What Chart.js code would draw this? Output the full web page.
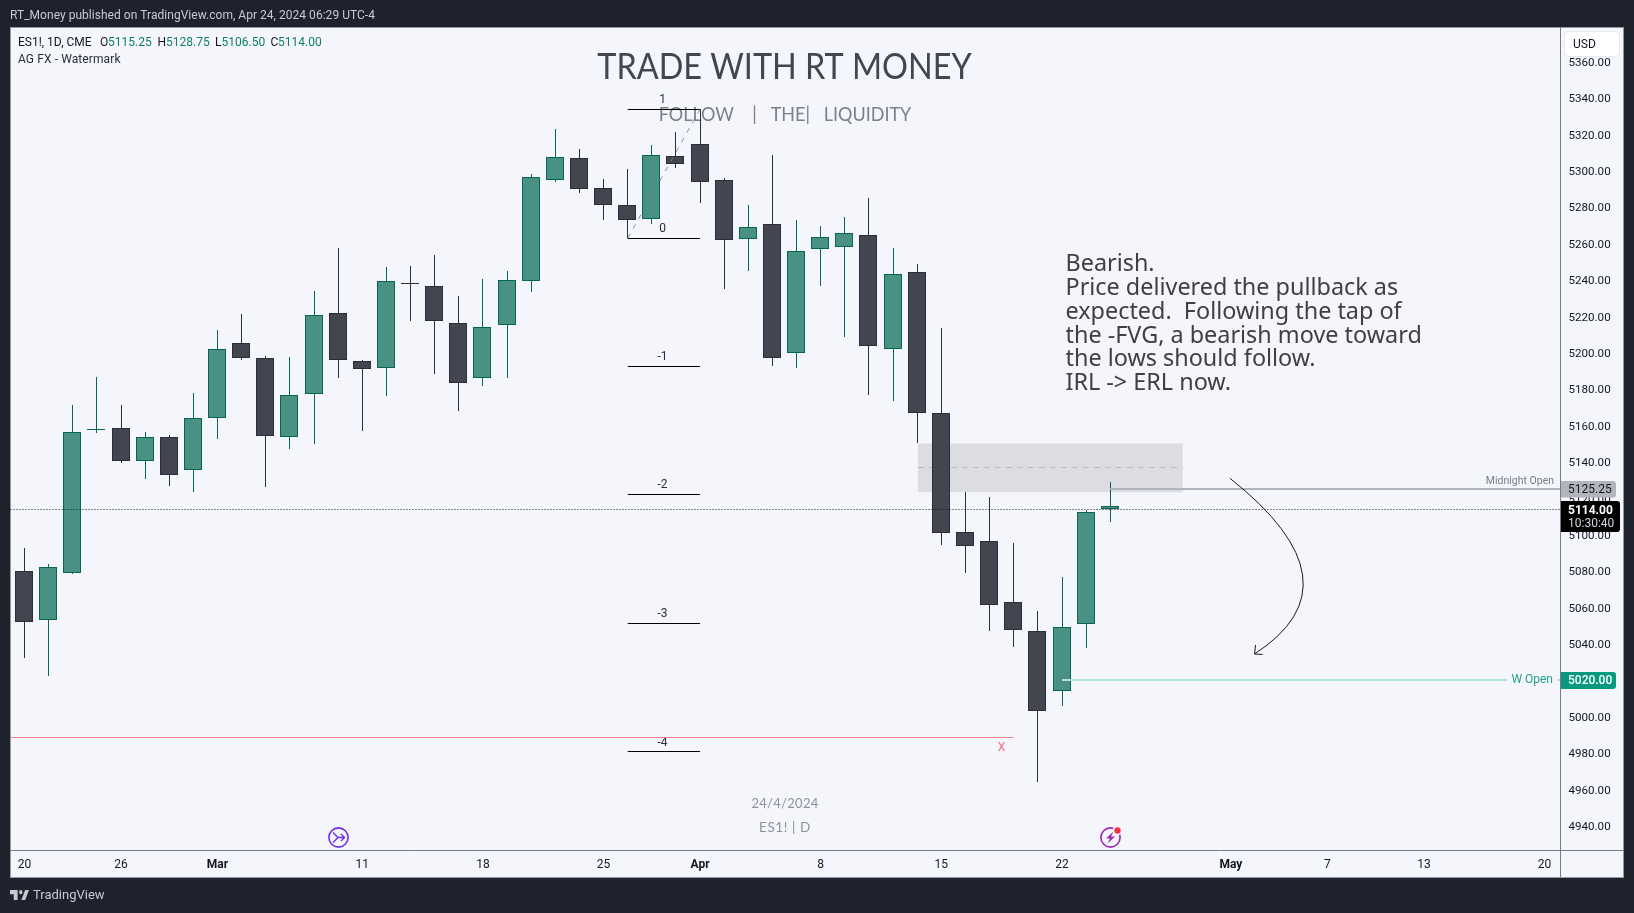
<!DOCTYPE html>
<html><head><meta charset="utf-8">
<script src="https://cdn.jsdelivr.net/npm/chart.js@4"></script>
<style>html,body{margin:0;padding:0;background:#1e222d;overflow:hidden}canvas{display:block}
#logo{position:absolute;left:10px;top:890px;width:19.5px;height:10px}</style>
</head><body>
<canvas id="c" width="1634" height="913"></canvas>
<svg id="logo" viewBox="0 6 36 14" preserveAspectRatio="none"><path fill="#c8cad0" d="M14 6H0v6h7v8h7V6Z"/><circle fill="#c8cad0" cx="20" cy="9" r="3"/><path fill="#c8cad0" d="M28 20h-7l7-14h7l-7 14Z"/></svg>
<script>
const opens  = [5079.5,5052.5,5078.75,5157.25,5158,5140.25,5153.5,5135,5164,5204.75,5196.5,5153.5,5177,5221.25,5195,5191.5,5238,5236.25,5215.75,5185.5,5214.75,5239.25,5294.5,5306.5,5290,5280.75,5273,5307.5,5314.25,5294.5,5262,5270.25,5199.25,5256.5,5257.5,5264.25,5201.5,5243.75,5166.5,5101,5096,5062.5,5046.5,5013.5,5050.5,5115.25];
const highs  = [5092.5,5083.5,5171,5186.25,5171,5156,5154.5,5177.5,5212,5221,5198,5197.25,5233.5,5257.25,5195.75,5246.75,5247.25,5253.5,5230.75,5240,5244.5,5298,5322.5,5311.5,5295,5300.5,5313.75,5321,5333.5,5295.5,5280.75,5308.25,5272.5,5269.25,5274.25,5284.75,5257.25,5248.5,5213.25,5123,5120.5,5095,5057.75,5076.5,5113,5128.75];
const lows   = [5031.75,5022.25,5078.25,5155.25,5139.25,5130.5,5126.5,5123.25,5152.5,5195.5,5126,5147,5149.75,5185.5,5156.75,5176,5217,5188,5167.75,5181.5,5186,5233.25,5293.5,5287.5,5272.75,5262.75,5270.5,5301.25,5282,5234.75,5244.75,5192.5,5191.5,5236.5,5208.5,5176.5,5173.25,5150.25,5094.25,5078.75,5047,5038,4963.5,5005.75,5037.5,5106.5];
const closes = [5051.75,5081.75,5156,5157.75,5140.25,5153.25,5132.25,5163.5,5201.5,5197,5154,5176.25,5220.25,5195.75,5190.5,5239,5237.5,5217.25,5182.75,5214,5239.5,5296,5307,5289.5,5280.75,5272.5,5308,5303.5,5293.25,5261.5,5268.5,5196.5,5255.5,5263,5265.25,5203.25,5242.75,5166.25,5100.5,5093.5,5061,5047.5,5003,5048.75,5112,5114];
const upFlags = [0,1,1,1,0,1,0,1,1,0,0,1,1,0,0,1,0,0,0,1,1,1,1,0,0,0,1,0,0,0,1,0,1,1,1,0,1,0,0,0,0,0,0,1,1,1];
const timeTickIndex = [0,4,8,14,19,24,28,33,38,43,50,54,58,63];
const timeTickLabels = ["20","26","Mar","11","18","25","Apr","8","15","22","May","7","13","20"];
const monthLabels = ["Mar","Apr","May"];
const priceTicks = [4940,4960,4980,5000,5020,5040,5060,5080,5100,5120,5140,5160,5180,5200,5220,5240,5260,5280,5300,5320,5340,5360];
const fibLevels = ["1","0","-1","-2","-3","-4"];
const fibPrices = [5333.5,5262.5,5192.25,5122,5051,4980.5];
const fibIndexRange = [25,28];
const fvgIndexRange = [37.03,48];
const fvgPrices = [5149.75,5123,5136.75];
const midnightOpen = 5125.25, midnightStart = 45;
const weekOpen = 5020, weekStart = 43;
const lastPrice = 5114;
const lowLevel = 4988.35, lowLevelEnd = 41;
const arrowIndex = [49.96,55.47,50.98];
const arrowPrice = [5130.65,5072.7,5034.1];
const noteLines = ["Bearish.","Price delivered the pullback as","expected.  Following the tap of","the -FVG, a bearish move toward","the lows should follow.","IRL -> ERL now."];

const BULL='#4a9185',BULLB='#056656',BEAR='#434651',BEARB='#2a2e39';
const SANS='Roboto, sans-serif', NOTE='"Noto Sans", sans-serif', TITLE='Lato, sans-serif';
const wickColors = upFlags.map(u=>u?BULLB:BEARB);

function T(ctx,s,x,y,font,color,align,spacing,xs){
  ctx.save();ctx.translate(x,y);if(xs)ctx.scale(xs,1);
  ctx.font=font;ctx.fillStyle=color;ctx.textAlign=align||'left';ctx.textBaseline='middle';
  ctx.letterSpacing=(spacing||0)+'px';ctx.fillText(s,0,0);ctx.restore();
}
function hline(ctx,x0,x1,y,color,w,dash){
  ctx.save();ctx.strokeStyle=color;ctx.lineWidth=w;ctx.setLineDash(dash||[]);
  const yy=w%2?Math.round(y-.5)+.5:Math.ceil(y);
  ctx.beginPath();ctx.moveTo(x0,yy);ctx.lineTo(x1,yy);ctx.stroke();ctx.restore();
}
function tag(ctx,x0,y0,x1,y1,fill){
  ctx.fillStyle=fill;ctx.beginPath();ctx.roundRect(x0,y0,x1-x0,y1-y0,[0,3,3,0]);ctx.fill();
}
const plate={id:'plate',
  beforeDraw(ch){const c=ch.ctx;c.save();c.fillStyle='#1e222d';c.fillRect(0,0,1634,913);
    c.fillStyle='#f4f6fb';c.fillRect(10.5,27,1613.5,851);
    c.strokeStyle='#9598a1';c.lineWidth=1;c.strokeRect(10.5,27.5,1613,850);
    c.strokeStyle='#787b86';c.beginPath();c.moveTo(1560.5,27);c.lineTo(1560.5,877);c.moveTo(10,850.5);c.lineTo(1624,850.5);c.stroke();c.restore();},
  beforeDatasetsDraw(ch){
    ch.data.datasets.forEach((d,k)=>{ch.getDatasetMeta(k).data.forEach(el=>{
      const fx=Math.floor(el.x);el.x=k===0?fx+.5:fx;
      const a=Math.round(el.y),b=Math.round(el.base);el.y=a;el.base=(a===b)?a+1:b;
    });});
    const c=ch.ctx,X=ch.scales.x,Y=ch.scales.y;
    const x0=X.getPixelForValue(fvgIndexRange[0]),x1=X.getPixelForValue(fvgIndexRange[1]);
    c.save();c.fillStyle='#dcdde2';c.fillRect(x0,Y.getPixelForValue(fvgPrices[0]),x1-x0,Y.getPixelForValue(fvgPrices[1])-Y.getPixelForValue(fvgPrices[0]));
    hline(c,x0,x1,Y.getPixelForValue(fvgPrices[2]),'#b8bac0',1,[6,5]);c.restore();
  },
  afterDraw(ch){
    const c=ch.ctx,X=ch.scales.x,Y=ch.scales.y,px=i=>X.getPixelForValue(i),py=v=>Y.getPixelForValue(v);
    c.save();
    // header and footer
    T(c,'RT_Money published on TradingView.com, Apr 24, 2024 06:29 UTC-4',10,16,'12px '+SANS,'#c8cad0','left',.03);
    T(c,'TradingView',33,896,'13px '+SANS,'#c8cad0');
    // legend
    const dk='#131722',gr='#0f7d6b',f='12px '+SANS;
    T(c,'ES1!, 1D, CME',18,43,f,dk);
    [['O',100,'5115.25',108],['H',157.5,'5128.75',166],['L',215,'5106.50',221.5],['C',270.5,'5114.00',278]].forEach(r=>{
      T(c,r[0],r[1],43,f,dk);T(c,r[2],r[3],43,f,gr);});
    T(c,'AG FX - Watermark',18,60,f,'#2a2e39','left',.1);
    // title block
    T(c,'TRADE WITH RT MONEY',784.5,67,'36px '+TITLE,'#434651','center',0,.9);
    T(c,'FOLLOW    |   THE|   LIQUIDITY',785,115,'20px '+TITLE,'rgba(67,70,81,.68)','center',0,.9);
    T(c,'24/4/2024',785,803.5,'13px '+TITLE,'#8f9199','center',.3);
    T(c,'ES1! | D',785,827.5,'13.5px '+TITLE,'#8f9199','center',.6);
    // fib
    const fx0=px(fibIndexRange[0]),fx1=px(fibIndexRange[1]);
    fibPrices.forEach((p,i)=>{hline(c,fx0,fx1,py(p),'#000',1);
      T(c,fibLevels[i],662.5,py(p)-9,'12px '+SANS,'#2a2e39','center');});
    c.strokeStyle='rgba(120,123,134,.85)';c.lineWidth=1;c.setLineDash([5,6]);c.beginPath();
    c.moveTo(fx0,py(fibPrices[1]));c.lineTo(fx1,py(fibPrices[0]));c.stroke();c.setLineDash([]);
    // levels
    hline(c,10.5,1560,py(lastPrice)+.7,'#131722',1,[1,2]);
    hline(c,px(midnightStart),1560,py(midnightOpen),'#b2b5be',2);
    T(c,'Midnight Open',1554,481.5,'10.5px '+SANS,'#787b86','right');
    const wy=py(weekOpen),wc='#b2dfd8';
    hline(c,px(weekStart),1507,wy,wc,2);hline(c,1557,1560,wy,wc,2);
    T(c,'W Open',1553,wy+.5,'12px '+SANS,'#26a08c','right');
    hline(c,10.5,px(lowLevelEnd),py(lowLevel),'#f0838c',1);
    T(c,'X',1001.5,747.5,'12px '+SANS,'#f26d78','center');
    // curved arrow
    c.strokeStyle='#1a1a1a';c.lineWidth=1;c.beginPath();
    c.moveTo(px(arrowIndex[0]),py(arrowPrice[0]));
    c.quadraticCurveTo(px(arrowIndex[1]),py(arrowPrice[1]),px(arrowIndex[2]),py(arrowPrice[2]));c.stroke();
    const ax=px(arrowIndex[2]),ay=py(arrowPrice[2]);
    c.beginPath();c.moveTo(ax+1,ay-9);c.lineTo(ax,ay);c.lineTo(ax+8,ay+.5);c.stroke();
    // note
    noteLines.forEach((s,i)=>T(c,s,1065.5,264+i*23.95,'23.4px '+NOTE,'#404040'));
    // price tags
    c.fillStyle='#fff';c.strokeStyle='#e6e8ee';c.lineWidth=1;c.beginPath();c.roundRect(1564.5,31.5,55,25,4);c.fill();c.stroke();
    T(c,'USD',1573,45,f,'#131722');
    tag(c,1561,481,1616,497.5,'#b2b5be');T(c,'5125.25',1568,490,f,'#131722');
    tag(c,1561,501,1620,532,'#000');T(c,'5114.00',1568,510.5,'bold 12px '+SANS,'#fff');T(c,'10:30:40',1568,524,f,'#d1d4dc');
    tag(c,1561,672,1616,689,'#089981');T(c,'5020.00',1568,681,'500 12px '+SANS,'#fff');
    // icons
    c.lineWidth=1.6;c.strokeStyle='#6f2bf0';c.beginPath();c.arc(338.5,837.5,9.6,0,7);c.stroke();
    c.lineWidth=1.4;c.beginPath();c.moveTo(333,832.5);c.lineTo(338,837.5);c.lineTo(333,842.5);c.moveTo(338,837.5);c.lineTo(344.5,837.5);c.moveTo(341,834);c.lineTo(344.5,837.5);c.lineTo(341,841);c.stroke();
    c.lineWidth=1.6;c.strokeStyle='#9c27b0';c.beginPath();c.arc(1110.5,837.5,9.6,0,7);c.stroke();
    c.fillStyle='#9c27b0';c.beginPath();c.moveTo(1113.5,831.5);c.lineTo(1106,838.5);c.lineTo(1110,838.5);c.lineTo(1107.5,843.5);c.lineTo(1115,836.5);c.lineTo(1111,836.5);c.closePath();c.fill();
    c.fillStyle='#f4f6fb';c.beginPath();c.arc(1117.5,830.5,5,0,7);c.fill();
    c.fillStyle='#f23645';c.beginPath();c.arc(1117.5,830.5,3.2,0,7);c.fill();
    c.restore();
  }
};
const idx=opens.map((_,i)=>i);
new Chart(document.getElementById('c'),{
  type:'bar',
  data:{datasets:[
    {label:'Range',data:idx.map(i=>({x:i,y:[lows[i],highs[i]]})),backgroundColor:wickColors,borderWidth:0,barThickness:1,grouped:false,inflateAmount:0,order:2},
    {label:'ES1!',data:idx.map(i=>({x:i,y:[opens[i],closes[i]]})),backgroundColor:upFlags.map(u=>u?BULL:BEAR),borderColor:wickColors,borderWidth:1,borderSkipped:false,barThickness:18,grouped:false,inflateAmount:0,order:1}
  ]},
  options:{responsive:false,animation:false,devicePixelRatio:1,
    layout:{padding:{left:10.5,top:27,right:10,bottom:36}},
    plugins:{legend:{display:false},tooltip:{enabled:false}},
    scales:{
      x:{type:'linear',offset:false,min:-0.58,max:63.66,grid:{display:false},border:{display:false},
        afterBuildTicks(s){s.ticks=timeTickIndex.map(v=>({value:v}));},
        afterFit(s){s.height=27;},
        ticks:{autoSkip:false,maxRotation:0,padding:0,color:'#131722',
          font(ctx){const l=ctx.tick?timeTickLabels[timeTickIndex.indexOf(ctx.tick.value)]:'';return {family:'Roboto',size:12,weight:monthLabels.includes(l)?'bold':'normal'};},
          callback(v){return timeTickLabels[timeTickIndex.indexOf(v)];}}},
      y:{type:'linear',position:'right',min:4926.4,max:5378.6,grid:{display:false},border:{display:false},
        afterBuildTicks(s){s.ticks=priceTicks.map(v=>({value:v}));},
        afterFit(s){s.width=63.5;},
        ticks:{autoSkip:false,padding:0,labelOffset:2,color:'#131722',font:{family:'Roboto',size:11.6},callback(v){return v.toFixed(2);}}}
    }
  },
  plugins:[plate]
});
</script>
</body></html>
